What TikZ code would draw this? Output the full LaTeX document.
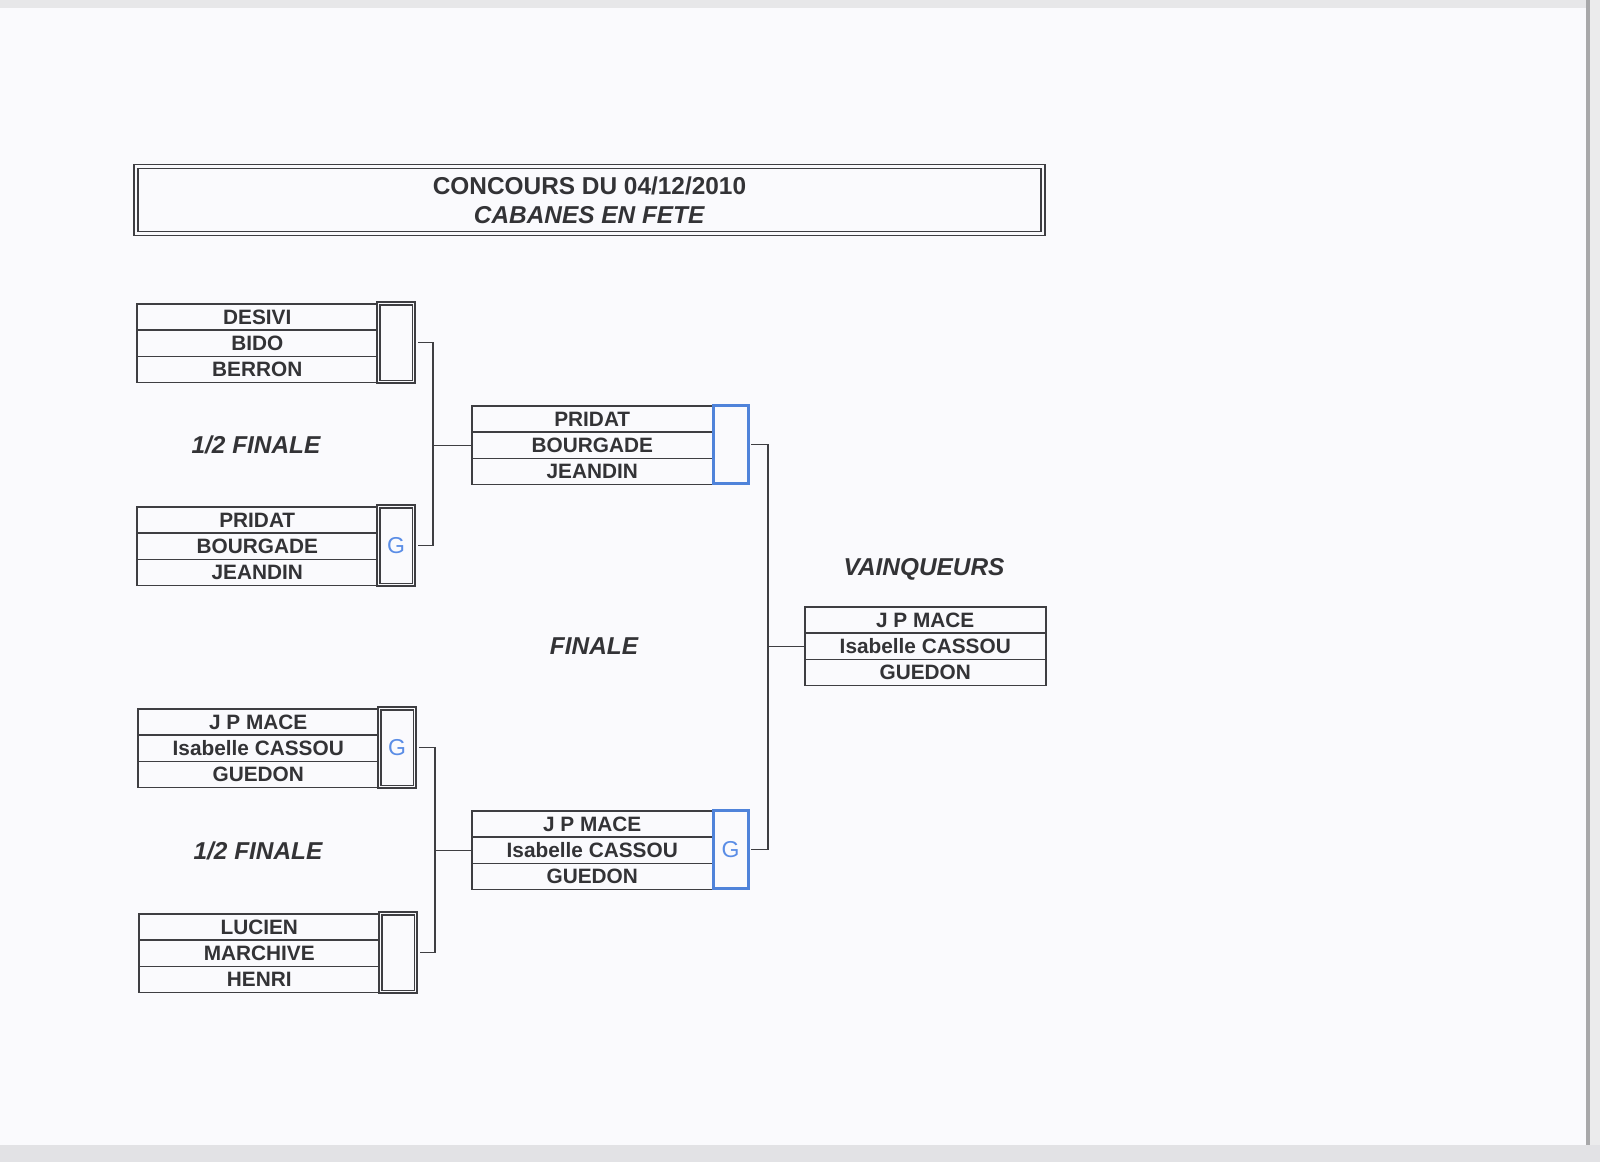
\documentclass[tikz,border=0pt]{standalone}
\usepackage{fontspec}
\setmainfont{Liberation Sans}
\definecolor{linec}{HTML}{3E3E42}
\definecolor{textc}{HTML}{333336}
\definecolor{gblue}{HTML}{5A8DE6}
\definecolor{bblue}{HTML}{4F83DA}
\definecolor{paper}{HTML}{FAFAFD}
\definecolor{edge}{HTML}{D6D6DA}
\newcommand{\mkteam}[6]{%
  \node[cell] (#1a) at (#2,#3) {#4};
  \node[cell] (#1b) at (#2,#3+26.3) {#5};
  \node[cell] (#1c) at (#2,#3+52.6) {#6};
}
\begin{document}
\begin{tikzpicture}[x=0.5pt,y=-0.5pt,
  cell/.style={draw=linec, line width=0.75pt, minimum width=120.5pt, minimum height=13.15pt,
    inner sep=0pt, anchor=north west, text=textc, font=\bfseries\fontsize{10.4}{12}\selectfont},
  gcol/.style={draw=linec, line width=0.7pt, double=paper, double distance=0.7pt,
    minimum width=17.6pt, minimum height=39.1pt, inner sep=0pt,
    text=gblue, font=\fontsize{11.5}{12}\selectfont},
  bcol/.style={draw=bblue, line width=1.5pt, minimum width=17.5pt, minimum height=39pt,
    inner sep=0pt, text=gblue, font=\fontsize{11.5}{12}\selectfont},
  lab/.style={text=textc, font=\bfseries\itshape\fontsize{12.2}{14}\selectfont},
  conn/.style={draw=linec, line width=0.65pt},
  titlebox/.style={draw=linec, line width=0.8pt, double=paper, double distance=1.1pt,
    minimum width=453.5pt, minimum height=33.5pt, inner sep=0pt, align=center,
    text=textc, font=\bfseries\fontsize{12.2}{14.5}\selectfont}]
\useasboundingbox (0,0) rectangle (1600,1162);
\fill[paper] (0,0) rectangle (1600,1162);
\fill[edge!60] (0,0) rectangle (1600,8);
\fill[edge!50] (1590,0) rectangle (1600,1162);
\fill[linec!45] (1586,0) rectangle (1590,1145);
\fill[edge!70] (0,1145) rectangle (1600,1162);

% title
\node[titlebox] (title) at (589.5,200) {CONCOURS DU 04/12/2010\\\textit{CABANES EN FETE}};

% teams
\mkteam{t1}{136}{303}{DESIVI}{BIDO}{BERRON}
\node[gcol] (t1g) at (396,342.5) {};
\mkteam{t2}{136}{506}{PRIDAT}{BOURGADE}{JEANDIN}
\node[gcol] (t2g) at (396,545.5) {G};
\mkteam{t3}{137}{708}{J P MACE}{Isabelle CASSOU}{GUEDON}
\node[gcol] (t3g) at (397,747.5) {G};
\mkteam{t4}{138}{913}{LUCIEN}{MARCHIVE}{HENRI}
\node[gcol] (t4g) at (398,952.5) {};

\mkteam{f1}{471}{405}{PRIDAT}{BOURGADE}{JEANDIN}
\node[bcol] (f1g) at (730.5,444.5) {};
\mkteam{f2}{471}{810}{J P MACE}{Isabelle CASSOU}{GUEDON}
\node[bcol] (f2g) at (730.5,849.5) {G};

\mkteam{w}{804}{606}{J P MACE}{Isabelle CASSOU}{GUEDON}

% labels
\node[lab] (sf1) at (256,445) {1/2 FINALE};
\node[lab] (sf2) at (258,851) {1/2 FINALE};
\node[lab] (fin) at (594,646) {FINALE};
\node[lab] (vq) at (924,569) {VAINQUEURS};

% connectors
\coordinate (j1) at ([xshift=-19pt]f1b.west);
\coordinate (j2) at ([xshift=-18pt]f2b.west);
\coordinate (j3) at ([xshift=-18pt]wb.west);
\draw[conn] ([xshift=2pt]t1g.east) -| (j1) |- ([xshift=2pt]t2g.east);
\draw[conn] (j1) -- (f1b.west);
\draw[conn] ([xshift=2pt]t3g.east) -| (j2) |- ([xshift=2pt]t4g.east);
\draw[conn] (j2) -- (f2b.west);
\draw[conn] ([xshift=0.75pt]f1g.east) -| (j3) |- ([xshift=0.75pt]f2g.east);
\draw[conn] (j3) -- (wb.west);
\end{tikzpicture}
\end{document}
